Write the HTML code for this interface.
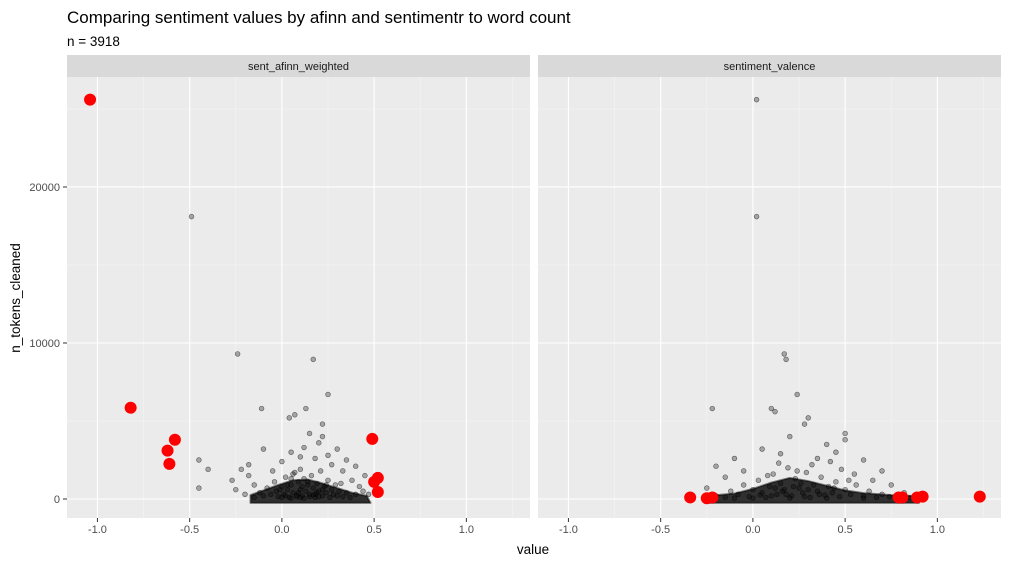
<!DOCTYPE html>
<html><head><meta charset="utf-8">
<style>
body{margin:0;background:#fff;font-family:"Liberation Sans",Arial,sans-serif;}
svg text{font-family:"Liberation Sans",Arial,sans-serif;}
</style></head>
<body>
<svg id="chart" width="1010" height="563">
<text x="67" y="23" font-size="17" fill="#000">Comparing sentiment values by afinn and sentimentr to word count</text>
<text x="67" y="46" font-size="13.5" fill="#000">n = 3918</text>
<text x="533" y="554" font-size="13.5" text-anchor="middle" fill="#000">value</text>
<text transform="translate(20,298) rotate(-90)" font-size="13.5" text-anchor="middle" fill="#000">n_tokens_cleaned</text>
<g id="plots"></g>
</svg>
<script>
const panelNames = ["sent_afinn_weighted","sentiment_valence"];
const xTicks = [-1.0,-0.5,0,0.5,1.0];
const xTickLabels = ["-1.0","-0.5","0.0","0.5","1.0"];
const yTicks = [0,10000,20000];
const yTickLabels = ["0","10000","20000"];
// panel 1: afinn value, tokens
const afinnGray = [[-0.49,18100],[-0.24,9300],[0.17,8950],[0.25,6700],[0.13,5800],[-0.11,5800],[0.07,5400],[0.04,5200],[0.22,4800],[0.22,4000],[0.15,4200],[0.2,3600],[0.3,3200],[0.05,3000],[0.1,2700],[0.35,2500],[0.4,2100],[0.45,1500],[-0.45,2500],[-0.4,1900],[-0.45,700],[-0.22,1900],[-0.18,2200],[-0.18,1500],[-0.1,3200],[-0.27,1200],[-0.25,600],[-0.15,900],[0.33,1800],[0.38,1200],[0.42,800],[0.27,2200],[0.18,2600],[0.0,2400],[-0.05,1800],[0.12,3300],[0.25,2800],[0.32,1000],[0.44,500],[0.47,300],
[-0.12,400],[-0.1,200],[-0.08,700],[-0.06,300],[-0.04,1100],[-0.03,500],[-0.02,150],[0,800],[0.01,300],[0.02,1400],[0.03,600],[0.04,100],[0.05,900],[0.06,400],[0.07,1700],[0.08,250],[0.09,1100],[0.1,600],[0.11,200],[0.12,1300],[0.13,500],[0.14,900],[0.15,150],[0.16,1500],[0.17,700],[0.18,300],[0.19,1000],[0.2,500],[0.21,1800],[0.22,200],[0.23,800],[0.24,400],[0.25,1200],[0.26,100],[0.27,600],[0.28,300],[0.29,900],[0.3,200],[0.31,500],[0.33,150],[0.35,400],[0.37,100],[0.4,300],[-0.15,100],[-0.2,300],[0.0,100],[0.02,200],[0.05,50],[0.08,150],[0.1,100],[0.12,50],[0.15,300],[0.18,100],[0.2,150],[0.22,600],[0.1,1900],[0.05,1300],[-0.01,600],[0.03,900],[0.09,400],[0.14,1100],[0.17,250],[0.06,1600],[0.11,800],[0.19,400],[0.24,900]];
const afinnCore = [[-0.17,-250],[-0.17,250],[-0.1,550],[-0.02,900],[0.06,1200],[0.14,1250],[0.22,1000],[0.3,700],[0.38,400],[0.46,200],[0.48,-250]];
const afinnRed = [[-1.04,25600],[-0.82,5850],[-0.62,3100],[-0.61,2250],[-0.58,3800],[0.49,3850],[0.5,1100],[0.52,1350],[0.52,450]];
// panel 2: valence, tokens
const valGray = [[0.02,25600],[0.02,18100],[0.17,9300],[0.18,8950],[0.24,6700],[0.1,5800],[-0.22,5800],[0.12,5600],[0.3,5200],[0.28,4800],[0.5,4200],[0.5,3800],[0.4,3500],[0.2,4000],[0.45,3000],[0.6,2500],[0.7,1800],[0.65,1200],[-0.2,2100],[-0.15,1400],[-0.1,2600],[0.05,3200],[0.15,2900],[0.35,2600],[0.55,1600],[0.75,900],[0.82,400],[0.88,200],[-0.25,700],[-0.05,1800],
[-0.2,200],[-0.15,100],[-0.12,500],[-0.08,300],[-0.05,900],[-0.02,150],[0,600],[0.03,1200],[0.05,400],[0.07,100],[0.09,800],[0.11,1600],[0.13,300],[0.15,1000],[0.17,600],[0.19,2000],[0.21,200],[0.23,1300],[0.25,700],[0.27,400],[0.29,1700],[0.31,100],[0.33,900],[0.35,500],[0.37,1400],[0.39,250],[0.41,800],[0.43,400],[0.45,1100],[0.47,150],[0.5,600],[0.53,300],[0.56,900],[0.6,200],[0.63,500],[0.67,100],[0.7,300],[0.74,150],[0.78,50],[0.85,80],[0.6,50],[0.4,50],[0.2,60],[0,50],[-0.1,60],[0.1,200],[0.18,300],[0.26,1000],[0.32,2200],[0.14,2300],[0.08,1500],[0.22,800],[0.36,300],[0.44,700],[0.52,1200],[0.28,150],[0.12,700],[0.04,250],[0.3,600],[0.24,1800],[0.16,500],[0.48,1900],[0.42,2400]];
const valCore = [[-0.24,-250],[-0.24,200],[-0.1,350],[0,650],[0.1,1050],[0.2,1350],[0.3,1150],[0.4,850],[0.5,550],[0.6,380],[0.75,250],[0.9,180],[0.9,-250]];
const valRed = [[-0.34,100],[-0.25,50],[-0.22,100],[0.79,100],[0.81,100],[0.89,100],[0.92,150],[1.23,150]];

const panels=[{x0:67,x1:530,gray:afinnGray,core:afinnCore,red:afinnRed,name:panelNames[0]},{x0:538,x1:1001,gray:valGray,core:valCore,red:valRed,name:panelNames[1]}];
const xmin=-1.165,xmax=1.345,ymin=-1218,ymax=27050,py0=77,py1=518;
const NS="http://www.w3.org/2000/svg";
const root=document.getElementById('plots');
function mk(t,a,p){const e=document.createElementNS(NS,t);for(const k in a)e.setAttribute(k,a[k]);(p||root).appendChild(e);return e;}
const yS=v=>py1-(v-ymin)/(ymax-ymin)*(py1-py0);
panels.forEach((p,pi)=>{
  const xS=v=>p.x0+(v-xmin)/(xmax-xmin)*(p.x1-p.x0);
  const g=mk('g',{});
  
  
  const bg=mk('rect',{x:p.x0,y:py0,width:p.x1-p.x0,height:py1-py0,fill:'#ebebeb'},g);
  
  
  const st=mk('rect',{x:p.x0,y:55,width:p.x1-p.x0,height:22,fill:'#d9d9d9'},g);
  
  
  const stt=mk('text',{x:(p.x0+p.x1)/2,y:70,'font-size':11,'text-anchor':'middle',fill:'#1a1a1a'},g);
  stt.textContent=p.name;
  
  
  for(let i=0;i<xTicks.length-1;i++){const m=(xTicks[i]+xTicks[i+1])/2;mk('line',{x1:xS(m),x2:xS(m),y1:py0,y2:py1,stroke:'#f5f5f5','stroke-width':0.6},g);}
  [-1.25,1.25].forEach(m=>{if(m>xmin&&m<xmax)mk('line',{x1:xS(m),x2:xS(m),y1:py0,y2:py1,stroke:'#f5f5f5','stroke-width':0.6},g);});
  [5000,15000,25000].forEach(m=>mk('line',{x1:p.x0,x2:p.x1,y1:yS(m),y2:yS(m),stroke:'#f5f5f5','stroke-width':0.6},g));
  xTicks.forEach((t,i)=>{
    mk('line',{x1:xS(t),x2:xS(t),y1:py0,y2:py1,stroke:'#fff','stroke-width':1.1},g);
    mk('line',{x1:xS(t),x2:xS(t),y1:py1,y2:py1+4,stroke:'#333','stroke-width':1},g);
    const tl=mk('text',{x:xS(t),y:py1+15,'font-size':11,'text-anchor':'middle',fill:'#4d4d4d'},g);
    tl.textContent=xTickLabels[i];
    
    
  });
  yTicks.forEach((t,i)=>{
    mk('line',{x1:p.x0,x2:p.x1,y1:yS(t),y2:yS(t),stroke:'#fff','stroke-width':1.1},g);
    if(pi===0){
      mk('line',{x1:p.x0-4,x2:p.x0,y1:yS(t),y2:yS(t),stroke:'#333','stroke-width':1},g);
      const tl=mk('text',{x:p.x0-7,y:yS(t)+4,'font-size':11,'text-anchor':'end',fill:'#4d4d4d'},g);
      tl.textContent=yTickLabels[i];
      
      
    }
  });
  const core=mk('polygon',{points:p.core.map(d=>xS(d[0])+','+yS(d[1])).join(' '),fill:'rgba(0,0,0,0.8)',stroke:'rgba(0,0,0,0.5)','stroke-width':2,'stroke-linejoin':'round'},g);
  
  
  p.gray.forEach(d=>{
    const c=mk('circle',{cx:xS(d[0]),cy:yS(d[1]),r:2.4,fill:'rgba(0,0,0,0.3)',stroke:'rgba(0,0,0,0.55)','stroke-width':0.6},g);
    
    
  });
  p.red.forEach(d=>{
    const c=mk('circle',{cx:xS(d[0]),cy:yS(d[1]),r:6,fill:'#ff0000'},g);
    
    
  });
});
</script>
</body></html>
